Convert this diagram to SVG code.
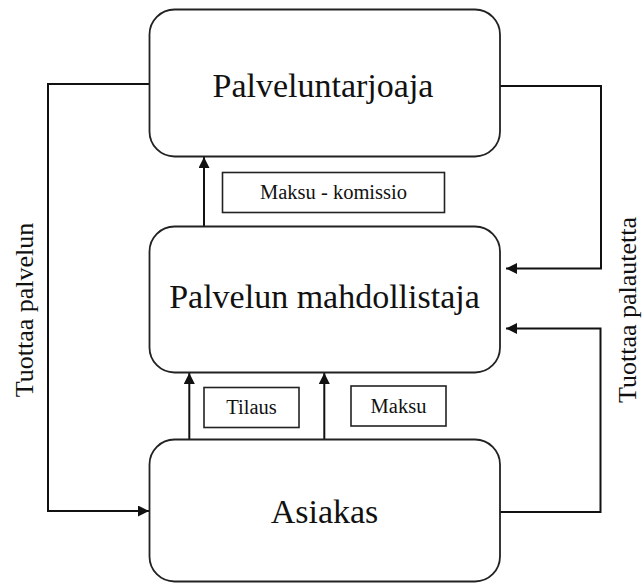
<svg xmlns="http://www.w3.org/2000/svg" width="642" height="583" viewBox="0 0 642 583">
  <style>
    .node { fill: #ffffff; stroke: #222222; stroke-width: 1.8; }
    .tag { fill: #ffffff; stroke: #222222; stroke-width: 1.6; }
    text { font-family: "Liberation Serif", "Times New Roman", serif; fill: #111111; text-anchor: middle; }
    .big { font-size: 34px; }
    .small { font-size: 20.5px; }
    .side { font-size: 26px; }
    .wire { fill: none; stroke: #111111; stroke-width: 2; stroke-linejoin: miter; }
  </style>
  <defs>
    <marker id="head" viewBox="0 0 10 10" refX="10" refY="5" markerWidth="11" markerHeight="11" markerUnits="userSpaceOnUse" orient="auto">
      <path d="M0,0 L10,5 L0,10 z" fill="#111111"/>
    </marker>
  </defs>
  <rect width="642" height="583" fill="#ffffff"/>

  <!-- connectors -->
  <g id="connectors">
    <path class="wire" d="M149.5,84 H48 V511 H149" marker-end="url(#head)"/>
    <path class="wire" d="M500,86 H601 V268.5 H506" marker-end="url(#head)"/>
    <path class="wire" d="M500,512 H600.5 V328.5 H506" marker-end="url(#head)"/>
    <path class="wire" d="M204,226.5 V157" marker-end="url(#head)"/>
    <path class="wire" d="M189.3,439.5 V373" marker-end="url(#head)"/>
    <path class="wire" d="M324.3,439.5 V373" marker-end="url(#head)"/>
  </g>

  <!-- nodes -->
  <g id="palveluntarjoaja">
    <rect class="node" x="149.5" y="9.5" width="350.5" height="147" rx="25" ry="25"/>
    <text class="big" x="323" y="97">Palveluntarjoaja</text>
  </g>
  <g id="palvelun-mahdollistaja">
    <rect class="node" x="149.5" y="226.5" width="350.5" height="146" rx="25" ry="25"/>
    <text class="big" x="324.5" y="307.5">Palvelun mahdollistaja</text>
  </g>
  <g id="asiakas">
    <rect class="node" x="149.5" y="439.5" width="350.5" height="142" rx="25" ry="25"/>
    <text class="big" x="324.5" y="523">Asiakas</text>
  </g>

  <!-- flow labels -->
  <g id="maksu-komissio">
    <rect class="tag" x="222.5" y="172.5" width="222" height="40"/>
    <text class="small" x="333.5" y="199">Maksu - komissio</text>
  </g>
  <g id="tilaus">
    <rect class="tag" x="204" y="387.5" width="95" height="40"/>
    <text class="small" x="251.5" y="413.5">Tilaus</text>
  </g>
  <g id="maksu">
    <rect class="tag" x="351" y="386" width="95" height="40"/>
    <text class="small" x="398.5" y="412.5">Maksu</text>
  </g>

  <!-- side captions -->
  <g id="tuottaa-palvelun">
    <text class="side" x="33" y="310" transform="rotate(-90 33 310)">Tuottaa palvelun</text>
  </g>
  <g id="tuottaa-palautetta">
    <text class="side" x="636" y="310" transform="rotate(-90 636 310)">Tuottaa palautetta</text>
  </g>
</svg>
